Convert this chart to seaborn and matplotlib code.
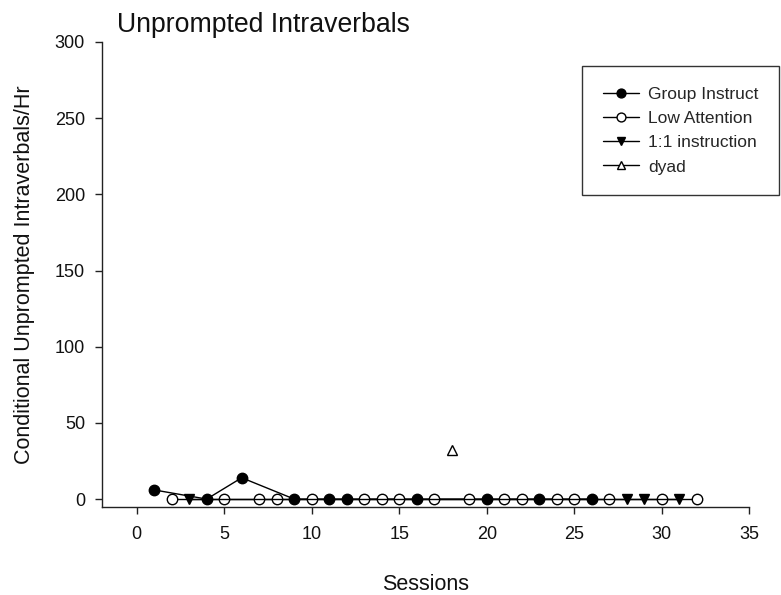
import matplotlib
matplotlib.use("Agg")
import matplotlib.pyplot as plt
import seaborn as sns
import pandas as pd

# Data
group_x = [1, 4, 6, 9, 11, 12, 16, 20, 23, 26]
group_y = [6, 0, 14, 0, 0, 0, 0, 0, 0, 0]
low_x = [2, 5, 7, 8, 10, 13, 14, 15, 17, 19, 21, 22, 24, 25, 27, 30, 32]
low_y = [0] * len(low_x)
one_x = [3, 28, 29, 31]
one_y = [0, 0, 0, 0]
dyad_x = [18]
dyad_y = [32]

x_ticks = [0, 5, 10, 15, 20, 25, 30, 35]
y_ticks = [0, 50, 100, 150, 200, 250, 300]

sns.set_style("ticks")
plt.rcParams['font.family'] = ['Liberation Sans', 'DejaVu Sans']

W, H = 781, 595
L, R, T, B = 101.7, 749.3, 42.0, 506.7
fig = plt.figure(figsize=(W / 100, H / 100), dpi=100)
ax = fig.add_axes([L / W, 1 - B / H, (R - L) / W, (B - T) / H])

series = [
    ("Group Instruct", group_x, group_y, 'o', 'black', 7.5),
    ("Low Attention", low_x, low_y, 'o', 'white', 7.5),
    ("1:1 instruction", one_x, one_y, 'v', 'black', 7.5),
    ("dyad", dyad_x, dyad_y, '^', 'white', 7),
]
for name, xs, ys, mk, fc, ms in series:
    df = pd.DataFrame({"x": xs, "y": ys})
    sns.lineplot(data=df, x="x", y="y", ax=ax, color='black', lw=1.0,
                 marker=mk, markersize=ms, markerfacecolor=fc,
                 markeredgecolor='black', markeredgewidth=1.0,
                 label=name, clip_on=False, zorder=3)

ax.set_xlim(-2, 35)
ax.set_ylim(-5, 300)
ax.set_xticks(x_ticks)
ax.set_yticks(y_ticks)
ax.tick_params(axis='both', labelsize=13, length=5, width=1, color='#222222', labelcolor='#111111')
ax.tick_params(axis='y', pad=7)
ax.tick_params(axis='x', pad=9)
for s in ['top', 'right']:
    ax.spines[s].set_visible(False)
for s in ['left', 'bottom']:
    ax.spines[s].set_linewidth(1.0)
    ax.spines[s].set_color('#222222')

ax.set_xlabel("Sessions", fontsize=15.5, labelpad=22, color='#111111')
ax.set_ylabel("Conditional Unprompted Intraverbals/Hr", fontsize=15.5, labelpad=14, color='#111111')

fig.text(117 / W, 1 - 32 / H, "Unprompted Intraverbals", fontsize=19.2,
         va='baseline', ha='left', color='#111111')

leg = ax.legend(loc='upper left',
                bbox_to_anchor=((582 - L) / (R - L), 1 - (66 - T) / (B - T)),
                frameon=True, fancybox=False, edgecolor='black', fontsize=12.5,
                handlelength=2.1, borderpad=1.2, labelspacing=0.52, handletextpad=0.5,
                borderaxespad=0, markerscale=0.85)
leg.get_frame().set_linewidth(1.0)

fig.savefig("out.png", dpi=100)
